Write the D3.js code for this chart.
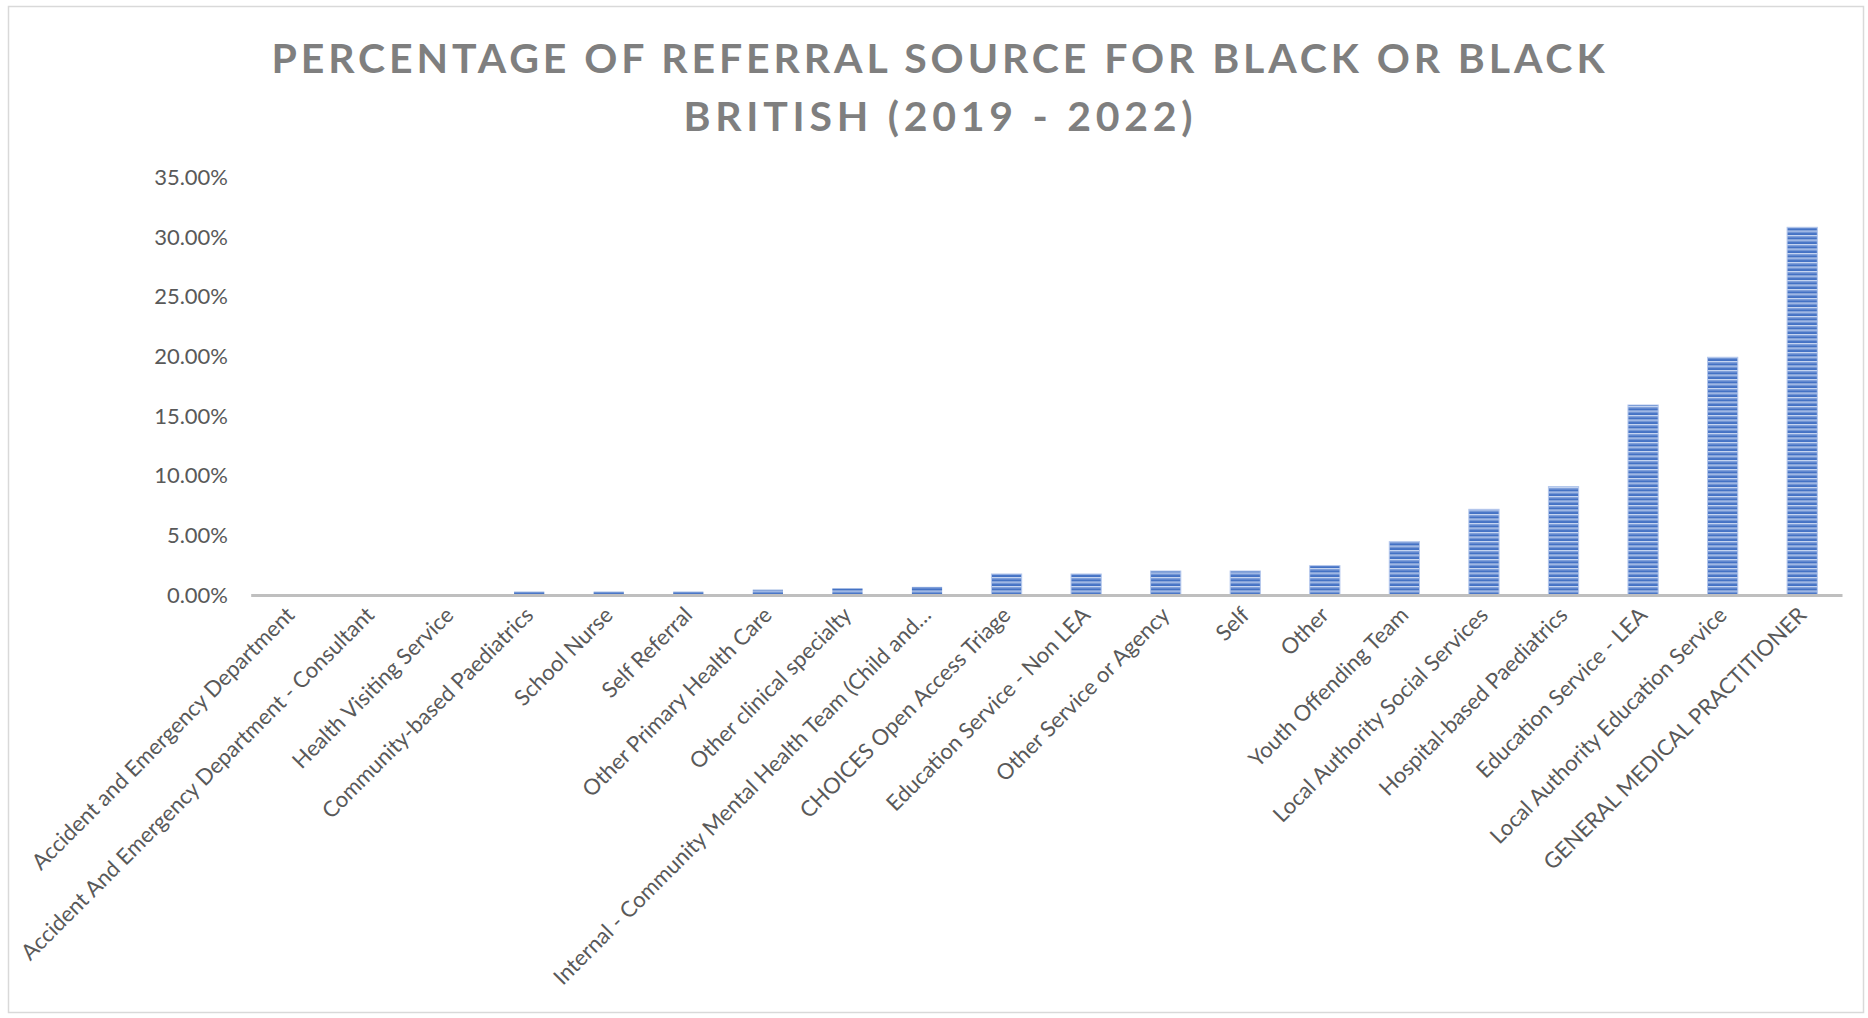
<!DOCTYPE html>
<html>
<head>
<meta charset="utf-8">
<script src="https://cdn.jsdelivr.net/npm/d3@7.9.0/dist/d3.min.js"></script>
<style>
  body { margin: 0; background: #fff; }
  text { font-family: Lato, "Open Sans", sans-serif; }
</style>
</head>
<body>
<svg id="chart" width="1868" height="1018"></svg>
<script>
// referral sources, in the order shown (ascending share)
const sources = [
  'Accident and Emergency Department',
  'Accident And Emergency Department - Consultant',
  'Health Visiting Service',
  'Community-based Paediatrics',
  'School Nurse',
  'Self Referral',
  'Other Primary Health Care',
  'Other clinical specialty',
  'Internal - Community Mental Health Team (Child and…',
  'CHOICES Open Access Triage',
  'Education Service - Non LEA',
  'Other Service or Agency',
  'Self',
  'Other',
  'Youth Offending Team',
  'Local Authority Social Services',
  'Hospital-based Paediatrics',
  'Education Service - LEA',
  'Local Authority Education Service',
  'GENERAL MEDICAL PRACTITIONER'
];

// share of referrals (fraction)
const shares = [
  0, 0, 0, 0.0029, 0.0029, 0.0029, 0.0044, 0.0055, 0.0069,
  0.0176, 0.0176, 0.0201, 0.0201, 0.0246, 0.0447, 0.0718,
  0.0908, 0.1592, 0.1992, 0.3081
];

const yTicks = [0, 0.05, 0.10, 0.15, 0.20, 0.25, 0.30, 0.35];

const titleLines = ['PERCENTAGE OF REFERRAL SOURCE FOR BLACK OR BLACK', 'BRITISH (2019 - 2022)'];

const data = sources.map((s, i) => ({ source: s, value: shares[i] }));

const svg = d3.select('#chart');

// outer frame
svg.append('rect')
  .attr('x', 8.5).attr('y', 6.5)
  .attr('width', 1855).attr('height', 1006)
  .attr('fill', '#fff')
  .attr('stroke', '#d9d9d9')
  .attr('stroke-width', 1.5);

const x = d3.scaleBand()
  .domain(sources)
  .range([250.7, 1842])
  .paddingInner(0.62)
  .paddingOuter(0.31);

const y = d3.scaleLinear()
  .domain([0, 0.35])
  .range([595, 177.3]);

// striped fill for the bars, tile anchored on the baseline so the bottom row is dark
const defs = svg.append('defs');
const pat = defs.append('pattern')
  .attr('id', 'stripes')
  .attr('patternUnits', 'userSpaceOnUse')
  .attr('y', y(0))
  .attr('width', 10).attr('height', 4.5);
pat.append('rect').attr('width', 10).attr('height', 4.5).attr('fill', '#4472c4');
pat.append('rect').attr('y', 0).attr('width', 10).attr('height', 1.2).attr('fill', '#c9d7f1');
pat.append('rect').attr('y', 1.2).attr('width', 10).attr('height', 1.1).attr('fill', '#8eaadf');

// title
svg.append('g')
  .selectAll('text')
  .data(titleLines)
  .join('text')
  .attr('x', 938)
  .attr('y', (d, i) => 73 + i * 58)
  .attr('text-anchor', 'middle')
  .attr('fill', '#7f7f7f')
  .attr('font-size', 41)
  .attr('font-weight', 700)
  .attr('textLength', (d, i) => i === 0 ? 1333 : 509)
  .attr('lengthAdjust', 'spacing')
  .text(d => d);

// y axis labels only
const yAxis = svg.append('g')
  .attr('transform', 'translate(240,0)')
  .call(d3.axisLeft(y).tickValues(yTicks).tickFormat(d3.format('.2%')).tickSize(0).tickPadding(12));
yAxis.select('.domain').remove();
yAxis.selectAll('text')
  .attr('fill', '#595959')
  .attr('font-size', 22)
  .style('font-family', 'Lato, sans-serif');

// bars
svg.append('g')
  .selectAll('rect')
  .data(data)
  .join('rect')
  .attr('x', d => x(d.source))
  .attr('y', d => y(d.value))
  .attr('width', x.bandwidth())
  .attr('height', d => y(0) - y(d.value))
  .attr('fill', 'url(#stripes)')
  .attr('stroke', '#b4c7ec')
  .attr('stroke-width', d => d.value > 0.01 ? 1 : 0);

// category axis
const xAxis = svg.append('g')
  .attr('transform', `translate(0,${y(0)})`)
  .call(d3.axisBottom(x).tickSize(0).tickPadding(0));
xAxis.select('.domain')
  .attr('stroke', '#bfbfbf')
  .attr('stroke-width', 3);
xAxis.selectAll('.tick text')
  .attr('fill', '#595959')
  .attr('font-size', 22)
  .style('font-family', 'Lato, sans-serif')
  .attr('text-anchor', 'end')
  .attr('dy', '0.35em')
  .attr('y', 0)
  .attr('transform', 'translate(0,16) rotate(-45)');
</script>
</body>
</html>
